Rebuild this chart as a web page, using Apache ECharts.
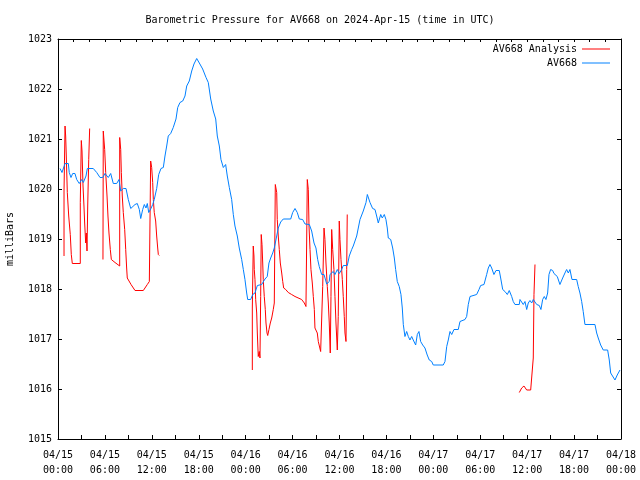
<!DOCTYPE html>
<html>
<head>
<meta charset="utf-8">
<script src="https://cdn.jsdelivr.net/npm/echarts@6/dist/echarts.min.js"></script>
<style>html,body{margin:0;padding:0;background:#fff;}#c{width:640px;height:480px;}</style>
</head>
<body>
<div id="c"></div>
<script>
// Hours since 2024-04-15 00:00 UTC
var blueHours = [0.26,0.51,0.90,1.32,1.44,1.66,1.88,2.17,2.39,2.72,3.03,3.24,3.58,3.75,4.51,4.95,5.37,5.72,6.01,6.43,6.74,7.07,7.51,7.80,8.02,8.35,8.70,8.99,9.30,9.55,9.85,10.14,10.40,10.58,10.83,11.04,11.25,11.42,11.60,11.89,12.11,12.31,12.62,12.88,13.17,13.47,13.68,13.90,14.10,14.41,14.74,15.09,15.31,15.60,15.95,16.24,16.46,16.79,17.10,17.39,17.74,18.07,18.50,18.93,19.22,19.53,19.86,20.17,20.37,20.63,20.84,21.14,21.44,21.65,21.91,22.21,22.42,22.63,22.93,23.18,23.49,23.70,23.91,24.13,24.26,24.64,24.90,25.19,25.49,26.05,26.47,26.76,26.98,27.20,27.46,27.66,27.97,28.17,28.48,28.81,29.76,30.01,30.31,30.60,30.86,31.29,31.59,32.14,32.44,32.74,32.99,33.21,33.41,33.72,34.02,34.36,34.69,34.78,35.20,35.42,35.72,35.97,36.28,36.48,37.00,37.25,37.56,37.76,38.20,38.62,39.04,39.39,39.56,39.90,40.24,40.54,40.75,40.96,41.27,41.47,41.73,41.94,42.11,42.24,42.55,42.80,43.01,43.18,43.39,43.64,43.86,44.03,44.16,44.37,44.59,44.80,45.01,45.23,45.43,45.74,45.95,46.16,46.38,46.64,46.93,47.22,47.48,47.79,47.99,49.27,49.49,49.71,49.91,50.13,50.35,50.64,51.19,51.41,52.05,52.26,52.47,52.69,53.54,53.84,54.05,54.48,54.82,55.03,55.24,55.46,55.75,56.01,56.43,56.61,56.87,57.16,57.46,57.71,58.02,58.22,58.44,58.99,59.08,59.30,59.50,59.72,59.94,60.14,60.36,60.58,60.78,61.00,61.22,61.55,61.76,61.98,62.19,62.40,62.62,62.79,63.00,63.26,63.43,63.85,64.19,64.54,64.83,65.05,65.26,65.47,65.73,66.33,66.53,66.75,66.97,67.17,67.39,68.67,68.89,69.09,69.40,69.73,70.29,70.50,70.68,70.93,71.23,71.52,71.87];
var bluePressure = [1020.41,1020.33,1020.51,1020.51,1020.33,1020.23,1020.31,1020.31,1020.19,1020.11,1020.19,1020.13,1020.26,1020.41,1020.41,1020.33,1020.23,1020.23,1020.31,1020.23,1020.31,1020.11,1020.11,1020.19,1019.96,1020.01,1020.01,1019.79,1019.61,1019.61,1019.69,1019.71,1019.59,1019.41,1019.59,1019.69,1019.62,1019.71,1019.53,1019.61,1019.69,1019.79,1020.01,1020.29,1020.41,1020.43,1020.66,1020.86,1021.06,1021.11,1021.23,1021.40,1021.63,1021.73,1021.76,1021.86,1022.06,1022.16,1022.36,1022.50,1022.61,1022.52,1022.40,1022.23,1022.13,1021.80,1021.56,1021.40,1021.06,1020.86,1020.59,1020.43,1020.49,1020.26,1020.03,1019.79,1019.49,1019.26,1019.06,1018.82,1018.59,1018.39,1018.19,1017.92,1017.79,1017.79,1017.89,1017.92,1018.07,1018.09,1018.20,1018.25,1018.52,1018.62,1018.72,1018.82,1019.06,1019.22,1019.34,1019.40,1019.40,1019.53,1019.61,1019.53,1019.40,1019.39,1019.30,1019.29,1019.16,1018.92,1018.82,1018.59,1018.45,1018.29,1018.29,1018.10,1018.15,1018.29,1018.35,1018.29,1018.39,1018.31,1018.39,1018.47,1018.47,1018.66,1018.79,1018.86,1019.06,1019.39,1019.56,1019.73,1019.89,1019.73,1019.61,1019.59,1019.46,1019.32,1019.49,1019.42,1019.49,1019.39,1019.22,1019.02,1018.99,1018.82,1018.62,1018.39,1018.15,1018.05,1017.89,1017.62,1017.29,1017.05,1017.15,1017.05,1016.98,1017.05,1016.98,1016.88,1017.09,1017.15,1016.95,1016.88,1016.82,1016.68,1016.58,1016.55,1016.48,1016.48,1016.55,1016.85,1016.98,1017.15,1017.09,1017.19,1017.19,1017.35,1017.39,1017.45,1017.69,1017.85,1017.89,1017.99,1018.07,1018.09,1018.29,1018.42,1018.49,1018.42,1018.29,1018.37,1018.37,1018.22,1017.99,1017.95,1017.89,1017.97,1017.85,1017.75,1017.69,1017.69,1017.79,1017.77,1017.69,1017.75,1017.59,1017.72,1017.77,1017.72,1017.79,1017.77,1017.69,1017.67,1017.59,1017.79,1017.85,1017.79,1017.92,1018.29,1018.39,1018.37,1018.31,1018.25,1018.09,1018.22,1018.32,1018.39,1018.32,1018.39,1018.19,1018.19,1018.05,1017.92,1017.75,1017.55,1017.29,1017.29,1017.12,1017.02,1016.88,1016.78,1016.78,1016.58,1016.32,1016.28,1016.18,1016.28,1016.38];

// Analysis series; null marks a gap in the data
var redHours = [0.77,0.77,0.90,0.98,1.06,1.19,1.37,1.57,1.70,1.83,2.85,2.85,2.98,3.07,3.20,3.32,3.41,3.54,3.62,3.71,3.80,3.93,4.05,4.9,5.75,5.79,5.97,6.10,6.27,6.39,6.52,6.69,6.82,7.29,7.89,7.89,8.02,8.10,8.22,8.35,8.53,8.66,8.78,8.86,9.34,9.85,10.91,11.42,11.68,11.85,11.98,12.11,12.19,12.31,12.49,12.62,12.75,12.83,12.95,18.0,24.85,24.85,24.97,25.06,25.10,25.19,25.28,25.41,25.49,25.61,25.74,25.83,25.92,25.99,26.09,26.18,26.25,26.38,26.51,26.60,26.73,26.82,26.98,27.15,27.33,27.53,27.66,27.79,27.97,28.04,28.17,28.30,28.43,28.61,28.74,28.86,29.12,29.45,29.88,30.31,31.16,31.50,31.71,31.80,31.88,32.01,32.10,32.23,32.35,32.52,32.65,32.78,32.86,33.16,33.29,33.59,33.67,33.85,34.02,34.14,34.27,34.44,34.57,34.69,34.82,34.91,35.00,35.13,35.29,35.42,35.55,35.72,35.84,35.97,36.06,36.19,36.36,36.48,36.61,36.70,36.83,36.92,36.99,48.0,58.99,59.30,59.59,59.72,59.94,60.45,60.65,60.78,60.87,61.00];
var redPressure = [1018.66,1019.96,1021.26,1021.06,1020.66,1019.93,1019.46,1019.09,1018.69,1018.51,1018.51,1019.73,1020.97,1020.76,1020.06,1019.66,1019.32,1018.92,1019.12,1018.76,1019.66,1020.59,1021.21,null,1018.59,1021.16,1020.79,1020.33,1019.86,1019.46,1019.12,1018.79,1018.59,1018.53,1018.46,1021.03,1020.79,1020.33,1019.86,1019.53,1019.19,1018.79,1018.42,1018.22,1018.09,1017.97,1017.97,1018.09,1018.15,1020.56,1020.43,1020.13,1019.79,1019.53,1019.36,1019.06,1018.82,1018.69,1018.67,null,1016.38,1017.62,1018.86,1018.66,1018.39,1018.19,1017.79,1017.52,1017.12,1016.65,1016.75,1016.62,1017.85,1019.09,1018.89,1018.52,1018.19,1017.85,1017.59,1017.32,1017.12,1017.07,1017.19,1017.32,1017.42,1017.59,1017.72,1020.09,1019.93,1019.39,1019.06,1018.79,1018.52,1018.32,1018.15,1018.02,1017.99,1017.93,1017.89,1017.85,1017.79,1017.72,1017.65,1018.92,1020.19,1019.99,1019.26,1018.79,1018.39,1018.12,1017.85,1017.59,1017.22,1017.12,1016.95,1016.75,1016.72,1018.05,1019.22,1018.99,1018.52,1018.05,1017.72,1017.32,1016.72,1017.85,1019.19,1018.79,1018.39,1017.85,1017.32,1016.78,1017.45,1019.36,1018.99,1018.59,1018.19,1017.85,1017.45,1017.12,1016.95,1018.39,1019.49,null,1015.93,1016.02,1016.06,1016.08,1015.98,1015.98,1016.02,1016.62,1017.89,1018.49];

var xTickHours = [0,6,12,18,24,30,36,42,48,54,60,66,72];
var yTicks = [1015,1016,1017,1018,1019,1020,1021,1022,1023];
var titleText = 'Barometric Pressure for AV668 on 2024-Apr-15 (time in UTC)';
var seriesNames = ['AV668 Analysis', 'AV668'];

function zip(xs, ys) {
  var out = [];
  for (var i = 0; i < xs.length; i++) out.push([xs[i], ys[i] === null ? '-' : ys[i]]);
  return out;
}
function pad(n) { return (n < 10 ? '0' : '') + n; }

var FONT = 'DejaVu Sans Mono';
var chart = echarts.init(document.getElementById('c'), null, {renderer: 'canvas'});
chart.setOption({
  animation: false,
  backgroundColor: '#ffffff',
  title: {
    text: titleText, left: 'center', top: 15, padding: 0,
    textStyle: {fontFamily: FONT, fontSize: 10, fontWeight: 'normal', color: '#000'}
  },
  legend: [
    {data: [seriesNames[0]], right: 30, top: 44, padding: 0, align: 'right', orient: 'vertical',
     itemWidth: 28, itemHeight: 1, icon: 'rect', textStyle: {fontFamily: FONT, fontSize: 10, color: '#000'}},
    {data: [seriesNames[1]], right: 30, top: 58, padding: 0, align: 'right', orient: 'vertical',
     itemWidth: 28, itemHeight: 1, icon: 'rect', textStyle: {fontFamily: FONT, fontSize: 10, color: '#000'}}
  ],
  grid: {left: 58, right: 19, top: 39, bottom: 41, containLabel: false, outerBoundsMode: 'none'},
  xAxis: [
    {type: 'value', min: 0, max: 72, interval: 3, position: 'bottom',
     axisLine: {show: true, onZero: false, lineStyle: {color: '#000', width: 1}},
     axisTick: {show: true, inside: true, length: 4, lineStyle: {color: '#000'}},
     splitLine: {show: false},
     axisLabel: {show: true, margin: 9, showMinLabel: true, showMaxLabel: true, hideOverlap: false,
       fontFamily: FONT, fontSize: 10, color: '#000', lineHeight: 15,
       formatter: function (v) {
         if (xTickHours.indexOf(v) < 0) return '';
         var d = 15 + Math.floor(v / 24);
         return '04/' + pad(d) + '\n' + pad(v % 24) + ':00';
       }}},
    {type: 'value', min: 0, max: 72, interval: 2, position: 'top',
     axisLine: {show: true, onZero: false, lineStyle: {color: '#000', width: 1}},
     axisTick: {show: true, inside: true, length: 3, lineStyle: {color: '#000'}},
     splitLine: {show: false}, axisLabel: {show: false}}
  ],
  yAxis: [
    {type: 'value', min: yTicks[0], max: yTicks[yTicks.length - 1], interval: 1, position: 'left',
     name: 'milliBars', nameLocation: 'middle', nameRotate: 90, nameGap: 43,
     nameTextStyle: {fontFamily: FONT, fontSize: 10, color: '#000'},
     axisLine: {show: true, onZero: false, lineStyle: {color: '#000', width: 1}},
     axisTick: {show: true, inside: true, length: 4, lineStyle: {color: '#000'}},
     splitLine: {show: false},
     axisLabel: {margin: 6, fontFamily: FONT, fontSize: 10, color: '#000',
       formatter: function (v) { return String(v); }}},
    {type: 'value', min: yTicks[0], max: yTicks[yTicks.length - 1], interval: 1, position: 'right',
     axisLine: {show: true, onZero: false, lineStyle: {color: '#000', width: 1}},
     axisTick: {show: true, inside: true, length: 4, lineStyle: {color: '#000'}},
     splitLine: {show: false}, axisLabel: {show: false}}
  ],
  series: [
    {name: seriesNames[0], type: 'line', xAxisIndex: 0, yAxisIndex: 0, data: zip(redHours, redPressure),
     showSymbol: false, symbol: 'none', connectNulls: false, color: '#ff0000',
     lineStyle: {color: '#ff0000', width: 1}},
    {name: seriesNames[1], type: 'line', xAxisIndex: 0, yAxisIndex: 0, data: zip(blueHours, bluePressure),
     showSymbol: false, symbol: 'none', color: '#0080ff',
     lineStyle: {color: '#0080ff', width: 1}}
  ]
});
</script>
</body>
</html>
